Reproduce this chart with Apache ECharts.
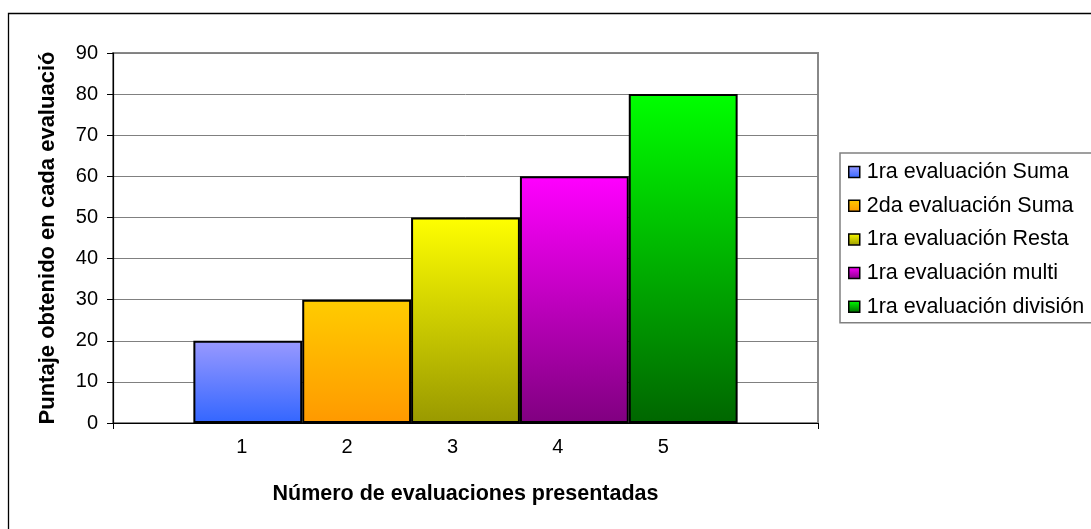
<!DOCTYPE html>
<html>
<head>
<meta charset="utf-8">
<script src="https://cdn.jsdelivr.net/npm/echarts@6/dist/echarts.min.js"></script>
<style>
html,body{margin:0;padding:0;background:#fff;}
#chart{width:1091px;height:529px;}
</style>
</head>
<body>
<div id="chart"></div>
<script>
var seriesNames = ['1ra evaluación Suma', '2da evaluación Suma', '1ra evaluación Resta', '1ra evaluación multi', '1ra evaluación división'];
var seriesValues = [20, 30, 50, 60, 80];
var tickLabels = ['1', '2', '3', '4', '5'];
var topColors = ['#9999ff', '#ffcc00', '#ffff00', '#ff00ff', '#00ff00'];
var bottomColors = ['#3366ff', '#ff9900', '#999900', '#800080', '#006600'];
var yTitle = 'Puntaje obtenido en cada evaluación';
var xTitle = 'Número de evaluaciones presentadas';

var FONT = '"Liberation Sans", Arial, sans-serif';
var chart = echarts.init(document.getElementById('chart'));

var series = seriesNames.map(function (name, i) {
  return {
    name: name,
    type: 'bar',
    xAxisIndex: 0,
    yAxisIndex: 0,
    barGap: '0%',
    barCategoryGap: '22.8%',
    data: [seriesValues[i]],
    itemStyle: {
      color: new echarts.graphic.LinearGradient(0, 0, 0, 1, [
        { offset: 0, color: topColors[i] },
        { offset: 1, color: bottomColors[i] }
      ]),
      borderColor: '#000',
      borderWidth: 2
    },
    emphasis: { disabled: true },
    animation: false
  };
});

chart.setOption({
  animation: false,
  backgroundColor: '#fff',
  textStyle: { fontFamily: FONT },
  grid: [
    { left: 113, right: 273, top: 53, bottom: 106, show: true, borderColor: '#888', borderWidth: 2, backgroundColor: 'transparent' },
    { left: 189, right: 375, top: 53, bottom: 106, show: false }
  ],
  xAxis: [
    {
      type: 'category',
      gridIndex: 0,
      data: [''],
      axisLine: { show: true, lineStyle: { color: '#000', width: 1.2 } },
      axisTick: { show: true, length: 6, lineStyle: { color: '#000' } },
      axisLabel: { show: false },
      splitLine: { show: false },
      name: xTitle,
      nameLocation: 'middle',
      nameGap: 60,
      nameTextStyle: { fontFamily: FONT, fontWeight: 'bold', fontSize: 21.5, color: '#000' }
    },
    {
      type: 'category',
      gridIndex: 1,
      data: tickLabels,
      axisLine: { show: false },
      axisTick: { show: false },
      axisLabel: { show: true, fontFamily: FONT, fontSize: 20, color: '#000', margin: 14 }
    }
  ],
  yAxis: [
    {
      type: 'value',
      gridIndex: 0,
      min: 0,
      max: 90,
      interval: 10,
      axisLine: { show: true, lineStyle: { color: '#000', width: 1.2 } },
      axisTick: { show: true, length: 6, lineStyle: { color: '#000' } },
      axisLabel: { fontFamily: FONT, fontSize: 20, color: '#000', margin: 15 },
      splitLine: { show: true, lineStyle: { color: '#808080', width: 1 } },
      name: yTitle,
      nameLocation: 'middle',
      nameGap: 54,
      nameTruncate: { maxWidth: 380, ellipsis: '' },
      nameTextStyle: {
        fontFamily: FONT, fontWeight: 'bold', fontSize: 22, color: '#000'
      }
    },
    {
      type: 'value',
      gridIndex: 1,
      min: 0,
      max: 90,
      show: false
    }
  ],
  legend: {
    orient: 'vertical',
    left: 840,
    top: 153,
    padding: [8, 20, 5, 8],
    itemGap: 11.7,
    itemWidth: 11,
    itemHeight: 11,
    icon: 'rect',
    borderColor: '#808080',
    borderWidth: 1.5,
    backgroundColor: '#fff',
    textStyle: { fontFamily: FONT, fontSize: 21.5, color: '#000', padding: [0, 0, 0, 2] },
    itemStyle: { borderColor: '#000', borderWidth: 1.5 },
    selectedMode: false,
    data: seriesNames
  },
  graphic: [
    {
      type: 'rect',
      shape: { x: 8.5, y: 13.5, width: 1200, height: 700 },
      style: { fill: 'none', stroke: '#000', lineWidth: 1.3 },
      silent: true,
      z: 100
    }
  ],
  series: series
});
</script>
</body>
</html>
